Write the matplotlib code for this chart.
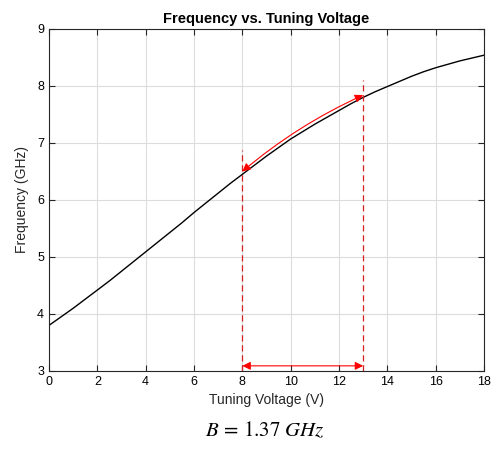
import matplotlib.pyplot as plt
import numpy as np

# tuning curve (0.5 V steps)
volts = [0, 0.5, 1, 1.5, 2, 2.5, 3, 3.5, 4, 4.5, 5, 5.5, 6, 6.5, 7, 7.5, 8, 8.5,
         9, 9.5, 10, 10.5, 11, 11.5, 12, 12.5, 13, 13.5, 14, 14.5, 15, 15.5,
         16, 16.5, 17, 17.5, 18]
freq = [3.80, 3.95, 4.10, 4.26, 4.42, 4.58, 4.75, 4.92, 5.09, 5.26, 5.43, 5.60,
        5.78, 5.95, 6.12, 6.29, 6.45, 6.61, 6.77, 6.92, 7.07, 7.20, 7.33, 7.45,
        7.57, 7.69, 7.80, 7.90, 7.99, 8.08, 8.17, 8.25, 8.32, 8.38, 8.44, 8.49,
        8.54]
v_lo, v_hi = 8, 13
f_lo, f_hi = 6.50, 7.84
line_top = [6.88, 8.10]
bw_label = r'$B\,=\,1.37\ GHz$'

plt.rcParams['font.family'] = ['Liberation Sans', 'DejaVu Sans']
plt.rcParams['mathtext.fontset'] = 'stix'

fig = plt.figure(figsize=(4.94, 4.5), dpi=100)
ax = fig.add_axes([0.0992, 0.1756, 0.8806, 0.76])

ax.plot(volts, freq, color='k', lw=1.0)

red = '#d42020'
ax.plot([v_lo, v_lo], [3, line_top[0]], ls=(0, (5, 3)), color=red, lw=0.9)
ax.plot([v_hi, v_hi], [3, line_top[1]], ls=(0, (5, 3)), color=red, lw=0.9)

ax.annotate('', xy=(v_lo, f_lo), xytext=(v_hi, f_hi),
            arrowprops=dict(arrowstyle='<|-|>', color='red', lw=0.8,
                            mutation_scale=12, shrinkA=0, shrinkB=0,
                            connectionstyle='arc3,rad=0.07'))
ax.annotate('', xy=(v_lo, 3.09), xytext=(v_hi, 3.09),
            arrowprops=dict(arrowstyle='<|-|>', color='red', lw=0.8,
                            mutation_scale=12, shrinkA=0, shrinkB=0))

ax.set_xlim(0, 18)
ax.set_ylim(3, 9)
ax.set_xticks(np.arange(0, 19, 2))
ax.set_yticks(np.arange(3, 10, 1))
ax.grid(True, color='#dcdcdc', lw=0.8)
ax.set_axisbelow(True)
ax.tick_params(direction='in', top=True, right=True, labelsize=9, length=4, color='#262626')
for s in ax.spines.values():
    s.set_color('#262626')
    s.set_linewidth(0.8)

ax.set_title('Frequency vs. Tuning Voltage', fontsize=10.5, fontweight='bold', pad=4)
ax.set_xlabel('Tuning Voltage (V)', fontsize=10, color='#262626', labelpad=4)
ax.set_ylabel('Frequency (GHz)', fontsize=10, color='#262626', labelpad=6)

fig.text(0.537, 0.044, bw_label, ha='center', va='center', fontsize=15)

fig.savefig('out.png', dpi=100)
